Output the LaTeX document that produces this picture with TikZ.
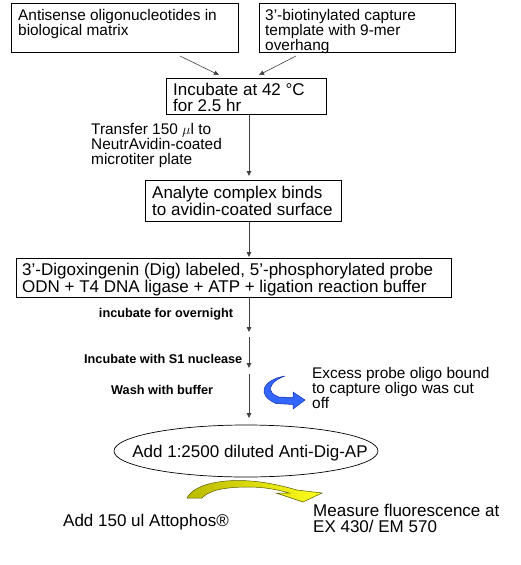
\documentclass[tikz,border=0pt]{standalone}
\usepackage{fontspec}
\setmainfont{Liberation Sans}
\usetikzlibrary{arrows.meta,shapes.geometric}
\definecolor{bluearr}{RGB}{51,102,255}
\definecolor{bluedark}{RGB}{20,50,170}
\definecolor{olivea}{RGB}{185,185,0}
\definecolor{yellowa}{RGB}{255,255,30}
\definecolor{olived}{RGB}{90,90,0}
\begin{document}
\begin{tikzpicture}[x=1pt,y=-1pt,
  boxnode/.style={draw=black,line width=0.8pt,anchor=north west,inner sep=0pt,minimum width=#1},
  txtS/.style={font=\fontsize{15.4}{15}\selectfont,align=left,anchor=north west,inner sep=0pt},
  txtM/.style={font=\fontsize{17}{15.5}\selectfont,align=left,anchor=north west,inner sep=0pt},
  txtB/.style={font=\bfseries\fontsize{12.7}{14}\selectfont,anchor=base west,inner sep=0pt},
  arr/.style={-{Triangle[length=5pt,width=4.5pt]},line width=0.8pt,draw=black!75},
  thinarr/.style={-{Triangle[length=5pt,width=4.5pt]},line width=0.6pt,draw=black!75}]
\useasboundingbox (0,0) rectangle (520,565);
\fill[white] (0,0) rectangle (520,565);

% boxes
\node[boxnode=227pt,minimum height=49pt] (a) at (11,3) {};
\node[boxnode=196pt,minimum height=49pt] (b) at (259,3) {};
\node[boxnode=160pt,minimum height=36pt] (inc) at (166,78) {};
\node[boxnode=196pt,minimum height=41pt] (ana) at (145,180) {};
\node[boxnode=435pt,minimum height=39pt] (dig) at (16,258) {};
\node[draw=black,line width=0.7pt,ellipse,minimum width=264pt,minimum height=52pt,inner sep=0pt] (ell) at (246,451) {};

% box texts
\node[txtS] (at) at (18,9) {Antisense oligonucleotides in\\biological matrix};
\node[txtS] (bt) at (265,9) {3’-biotinylated capture\\template with 9-mer\\overhang};
\node[txtM] (inct) at (173,83) {Incubate at 42 °C\\for 2.5 hr};
\node[txtM] (anat) at (152,186) {Analyte complex binds\\to avidin-coated surface};
\node[txtM] (digt) at (22,263) {3’-Digoxingenin (Dig) labeled, 5’-phosphorylated probe\\ODN + T4 DNA ligase + ATP + ligation reaction buffer};
\node[font=\fontsize{17}{15.5}\selectfont,anchor=base,inner sep=0pt] (ellt) at (250,457) {Add 1:2500 diluted Anti-Dig-AP};

% side labels
\node[txtS] (tr) at (91,123) {Transfer 150 \(\mu\)l to\\NeutrAvidin-coated\\microtiter plate};
\node[txtB,anchor=base] (ov) at (166,317) {incubate for overnight};
\node[txtB] (s1) at (84,363) {Incubate with S1 nuclease};
\node[txtB] (wa) at (111,394) {Wash with buffer};
\node[txtS] (ex) at (312,367) {Excess probe oligo bound\\to capture oligo was cut\\off};
\node[font=\fontsize{17}{15.5}\selectfont,anchor=base west,inner sep=0pt] (att) at (63,526) {Add 150 ul Attophos®};
\node[font=\fontsize{17}{16}\selectfont,align=left,anchor=north west,inner sep=0pt] (me) at (313,504) {Measure fluorescence at\\EX 430/ EM 570};

% connectors
\coordinate (ax) at (249,0);
\coordinate (a1) at (180,56);
\coordinate (a2) at (219,75);
\coordinate (b1) at (296,56);
\coordinate (b2) at (259,75);
\coordinate (c1) at (249,332);
\coordinate (c2) at (249,337);
\coordinate (c3) at (249,368);
\coordinate (c4) at (249,374);
\coordinate (c5) at (249,418);
\draw[thinarr] (a1) -- (a2);
\draw[thinarr] (b1) -- (b2);
\draw[arr,shorten >=4pt] (inc.south -| ax) -- (ana.north -| ax);
\draw[arr,shorten >=1pt] (ana.south -| ax) -- (dig.north -| ax);
\draw[arr] (dig.south -| ax) -- (c1);
\draw[arr] (c2) -- (c3);
\draw[arr] (c4) -- (c5);

% blue curved arrow
\path[fill=bluearr,draw=bluedark,line width=0.5pt]
  (285,376) .. controls (262,380) and (256,395) .. (276,403.5)
  -- (293,404.5) -- (293,409) -- (305,400) -- (293,392) -- (293,397.5)
  -- (279,397) .. controls (266,393) and (268,382) .. (285,376) -- cycle;

% yellow curved arrow
\path[left color=olivea,right color=yellowa,draw=olived,line width=0.5pt]
  (187,498) .. controls (195,483) and (225,479) .. (250,481)
  .. controls (266,482) and (283,486) .. (297,490)
  -- (322,493) -- (303,502) -- (276,493) -- (289,493)
  .. controls (276,489) and (262,487) .. (248,487)
  .. controls (226,487) and (209,490) .. (202,498) -- cycle;
\end{tikzpicture}
\end{document}
